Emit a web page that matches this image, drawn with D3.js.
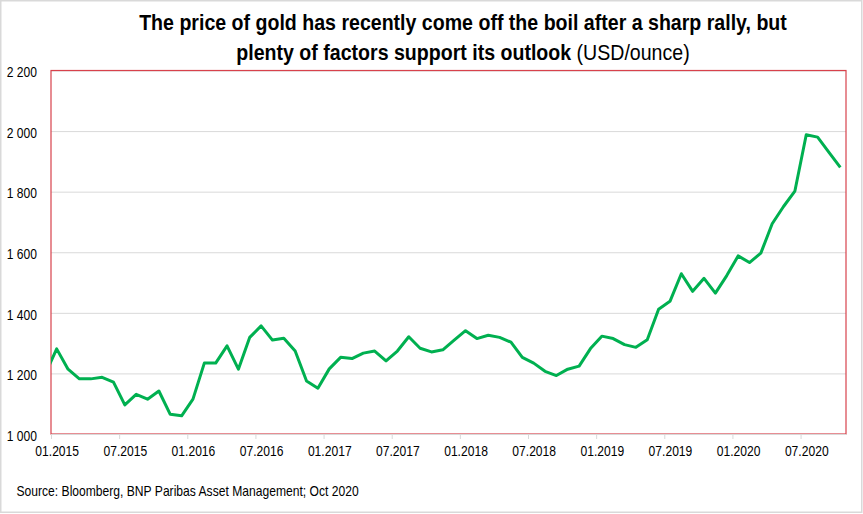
<!DOCTYPE html>
<html>
<head>
<meta charset="utf-8">
<script src="https://cdn.jsdelivr.net/npm/d3@7"></script>
<style>
  body { margin: 0; background: #fff; }
  text { font-family: "Liberation Sans", Arial, sans-serif; fill: #000; }
</style>
</head>
<body>
<div id="chart"></div>
<script>
// month-end gold price (USD/ounce), Dec 2014 .. Oct 2020
const firstMonth = new Date(2014, 11, 1);
const lastMonth = new Date(2020, 9, 1);
const goldPrice = [
    1198,
    1281, 1214, 1182, 1182, 1187, 1171, 1096, 1131, 1115, 1142, 1065, 1060,
    1115, 1234, 1234, 1291, 1214, 1319, 1357, 1310, 1316, 1274, 1175, 1151,
    1215, 1253, 1249, 1267, 1274, 1241, 1274, 1321, 1283, 1271, 1278, 1310,
    1341, 1315, 1326, 1319, 1303, 1253, 1234, 1207, 1193, 1214, 1224, 1282,
    1323, 1315, 1295, 1286, 1311, 1412, 1438, 1529, 1471, 1514, 1465, 1523,
    1588, 1566, 1597, 1694, 1751, 1802, 1988, 1980, 1930, 1880
];
const yTicks = [1000, 1200, 1400, 1600, 1800, 2000, 2200];
const xTickLabels = ["01.2015", "07.2015", "01.2016", "07.2016", "01.2017", "07.2017",
    "01.2018", "07.2018", "01.2019", "07.2019", "01.2020", "07.2020"];

const titleLine1 = "The price of gold has recently come off the boil after a sharp rally, but";
const titleLine2Bold = "plenty of factors support its outlook";
const titleLine2Unit = " (USD/ounce)";
const sourceText = "Source: Bloomberg, BNP Paribas Asset Management; Oct 2020";

const width = 863, height = 514;
const squeeze = 0.865;      // the text in the picture is narrowed horizontally
const titleSqueeze = 0.89;
const plot = {left: 51, right: 846, top: 70.5, bottom: 434};

const svg = d3.select("#chart")
    .append("svg")
    .attr("width", width)
    .attr("height", height);

// light frame round the whole picture
svg.append("rect")
    .attr("x", 0.75).attr("y", 0.75)
    .attr("width", 861).attr("height", 511.5)
    .attr("fill", "none")
    .attr("stroke", "#d9d9d9")
    .attr("stroke-width", 1.5);

const months = d3.timeMonth.range(firstMonth, d3.timeMonth.offset(lastMonth, 1));
const monthIndex = (d) => (d.getFullYear() - 2015) * 12 + d.getMonth();
const dataset = months.map((m, i) => ({month: m, price: goldPrice[i]}));

const xScale = d3.scaleLinear()
    .domain([0, 70])
    .range([plot.left, plot.right]);

const yScale = d3.scaleLinear()
    .domain([1000, 2200])
    .range([plot.bottom, plot.top]);

const halfMonth = xScale(0.5) - xScale(0);
const numFormat = d3.formatLocale({decimal: ".", thousands: " ", grouping: [3], currency: ["", ""]}).format(",");

// y axis + gridlines
const yAxis = svg.append("g")
    .attr("transform", `translate(${plot.left}, 0)`)
    .call(d3.axisLeft(yScale)
        .tickValues(yTicks)
        .tickSize(-(plot.right - plot.left))
        .tickFormat(numFormat));
yAxis.select(".domain").remove();
yAxis.selectAll(".tick line")
    .attr("stroke", "#d9d9d9")
    .attr("stroke-width", 1);
yAxis.selectAll(".tick text")
    .attr("x", -14 / squeeze)
    .attr("y", 6.3)
    .attr("dy", null)
    .attr("transform", `scale(${squeeze}, 1)`)
    .style("font-size", "14px")
    .style("fill", "#000");

// red plot border
svg.append("rect")
    .attr("x", plot.left)
    .attr("y", plot.top)
    .attr("width", plot.right - plot.left)
    .attr("height", plot.bottom - plot.top)
    .attr("fill", "none")
    .attr("stroke", "#d8424b")
    .attr("stroke-width", 1.2);

// x axis
const xAxis = svg.append("g")
    .attr("transform", `translate(0, ${plot.bottom})`)
    .call(d3.axisBottom(xScale)
        .tickValues(d3.range(0, 67, 6))
        .tickSize(5)
        .tickSizeOuter(0)
        .tickFormat((d, i) => xTickLabels[i]));
xAxis.select(".domain")
    .attr("stroke", "#d9d9d9")
    .attr("stroke-width", 1.2);
xAxis.selectAll(".tick line")
    .attr("stroke", "#d9d9d9");
xAxis.selectAll(".tick text")
    .attr("x", halfMonth / squeeze)
    .attr("y", 22.5)
    .attr("dy", null)
    .attr("transform", `scale(${squeeze}, 1)`)
    .style("font-size", "14px")
    .style("fill", "#000");

// price line
svg.append("clipPath")
    .attr("id", "plotClip")
    .append("rect")
    .attr("x", plot.left)
    .attr("y", plot.top)
    .attr("width", plot.right - plot.left)
    .attr("height", plot.bottom - plot.top);

const line = d3.line()
    .x((d) => xScale(monthIndex(d.month) + 0.5))
    .y((d) => yScale(d.price));

svg.append("path")
    .datum(dataset)
    .attr("clip-path", "url(#plotClip)")
    .attr("d", line)
    .attr("fill", "none")
    .attr("stroke", "#00b050")
    .attr("stroke-width", 3)
    .attr("stroke-linejoin", "round");

// title
svg.append("text")
    .attr("transform", `translate(463, 30) scale(${titleSqueeze}, 1)`)
    .attr("text-anchor", "middle")
    .style("font-size", "22px")
    .style("font-weight", "bold")
    .text(titleLine1);

const t2 = svg.append("text")
    .attr("transform", `translate(463, 60) scale(${titleSqueeze}, 1)`)
    .attr("text-anchor", "middle")
    .style("font-size", "22px");
t2.append("tspan").style("font-weight", "bold").text(titleLine2Bold);
t2.append("tspan").text(titleLine2Unit);

// source
svg.append("text")
    .attr("transform", `translate(16.5, 496) scale(${squeeze}, 1)`)
    .style("font-size", "14px")
    .text(sourceText);
</script>
</body>
</html>
